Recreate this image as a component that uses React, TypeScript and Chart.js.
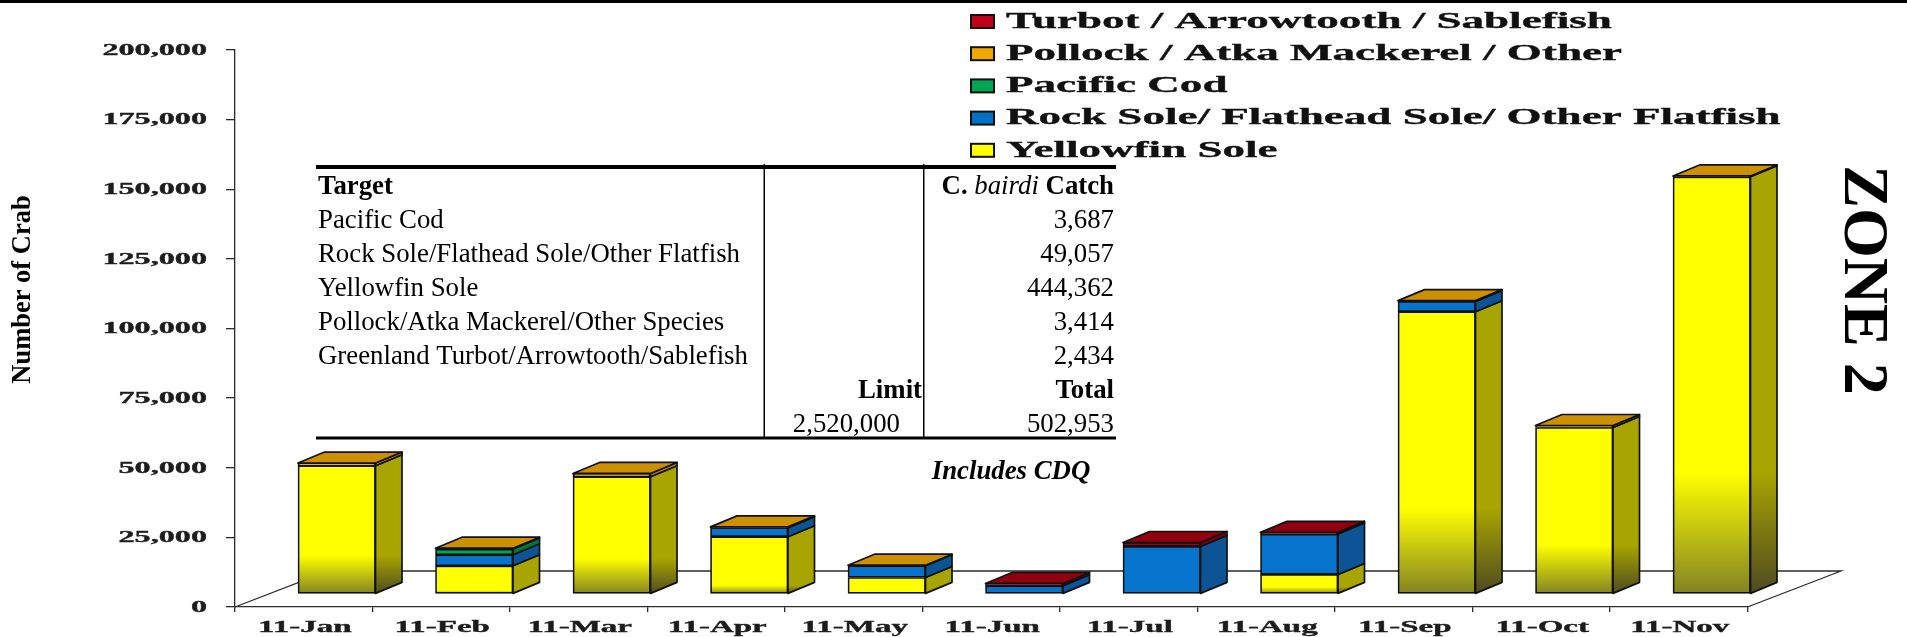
import React, { useEffect, useRef } from "react";
import { Chart, registerables } from "chart.js";
Chart.register(...registerables);

const months = ["11-Jan","11-Feb","11-Mar","11-Apr","11-May","11-Jun","11-Jul","11-Aug","11-Sep","11-Oct","11-Nov"];
const yellowfin = [46050,10140,42100,20560,5940,null,null,7020,101350,59800,149800];
const rockSole = [null,3950,null,3230,4200,2960,17100,14500,3700,null,null];
const pacificCod = [null,2050,null,null,null,null,null,null,null,null,null];
const pollock = [970,300,1190,300,200,null,null,null,300,700,300];
const turbot = [null,null,null,null,null,830,1400,600,null,null,null];

const legendRows = [
  ["Turbot / Arrowtooth / Sablefish", "#C00018"],
  ["Pollock / Atka Mackerel / Other", "#F0A800"],
  ["Pacific Cod", "#00A651"],
  ["Rock Sole/ Flathead Sole/ Other Flatfish", "#0070C8"],
  ["Yellowfin Sole", "#FFFF00"],
];
const tableTargets = ["Pacific Cod","Rock Sole/Flathead Sole/Other Flatfish","Yellowfin Sole","Pollock/Atka Mackerel/Other Species","Greenland Turbot/Arrowtooth/Sablefish"];
const tableCatch = ["3,687","49,057","444,362","3,414","2,434"];
const limitValue = "2,520,000";
const totalValue = "502,953";

const SERIF = '"Liberation Serif", "Times New Roman", serif';
const DX = 26.5, DY = 11, OFFX = 33, OFFY = 13;
const TABLE_SX = 0.957;

type RGB = [number, number, number];
const FACE: Record<string, { front: RGB; side: RGB; top: RGB; low: RGB; sideLow: RGB }> = {
  yellow: { front: [255,255,0], side: [168,165,0], top: [204,144,0], low: [130,130,36], sideLow: [78,74,34] },
  blue: { front: [6,116,205], side: [12,84,150], top: [204,144,0], low: [46,104,155], sideLow: [24,60,90] },
  green: { front: [0,166,81], side: [0,120,60], top: [0,140,70], low: [60,120,90], sideLow: [30,80,60] },
  orange: { front: [240,164,0], side: [190,130,0], top: [204,144,0], low: [150,120,50], sideLow: [90,70,40] },
  red: { front: [165,0,16], side: [130,0,14], top: [145,0,14], low: [120,40,40], sideLow: [80,30,30] },
};
const rgb = (c: RGB) => `rgb(${c[0]},${c[1]},${c[2]})`;

function stackTotal(i: number) {
  return [yellowfin, rockSole, pacificCod, pollock, turbot].reduce((s, a) => s + (a[i] || 0), 0);
}

function shade(chart: any, i: number, hi: RGB, lo: RGB) {
  const sc = chart.scales.y;
  if (!sc) return rgb(hi);
  const y0 = sc.getPixelForValue(0);
  const yT = sc.getPixelForValue(stackTotal(i));
  if (!Number.isFinite(y0) || !Number.isFinite(yT)) return rgb(hi);
  const h = y0 - yT;
  const frac = 0.29 * Math.pow(Math.min(1, h / 120), 1.5);
  const g = chart.ctx.createLinearGradient(0, y0 - frac * h - 0.5, 0, y0);
  g.addColorStop(0, rgb(hi));
  g.addColorStop(1, rgb(lo));
  return g;
}

function stretched(ctx: any, text: string, x: number, y: number, sx: number, align: string, heavy = true) {
  ctx.save();
  ctx.translate(x, y);
  ctx.scale(sx, 1);
  ctx.textAlign = align;
  ctx.fillText(text, 0, 0);
  if (heavy) {
    ctx.strokeStyle = ctx.fillStyle;
    ctx.lineWidth = 0.35;
    ctx.strokeText(text, 0, 0);
  }
  ctx.restore();
}

const wall = {
  id: "wall",
  beforeDatasetsDraw(chart: any) {
    const { ctx, chartArea: a } = chart;
    const depthX = 2 * OFFX + DX + 1, depthY = 2 * OFFY + DY - 1;
    ctx.save();
    ctx.strokeStyle = "#2a2a2a";
    ctx.lineWidth = 1.3;
    ctx.beginPath();
    ctx.moveTo(a.left, a.bottom);
    ctx.lineTo(a.left + depthX, a.bottom - depthY);
    ctx.lineTo(a.right + depthX, a.bottom - depthY);
    ctx.lineTo(a.right, a.bottom);
    ctx.stroke();
    ctx.restore();
    ctx.save();
    ctx.translate(OFFX, -OFFY);
  },
  afterDatasetsDraw(chart: any) {
    const { ctx } = chart;
    ctx.lineWidth = 1.7;
    ctx.strokeStyle = "#111";
    ctx.lineJoin = "round";
    const n = months.length;
    for (let i = 0; i < n; i++) {
      let top: any = null;
      chart.data.datasets.forEach((ds: any, d: number) => {
        if (ds.data[i] == null) return;
        const el = chart.getDatasetMeta(d).data[i];
        const f = FACE[ds.face];
        const r = el.x + el.width / 2;
        ctx.beginPath();
        ctx.moveTo(r, el.y);
        ctx.lineTo(r + DX, el.y - DY);
        ctx.lineTo(r + DX, el.base - DY);
        ctx.lineTo(r, el.base);
        ctx.closePath();
        ctx.fillStyle = shade(chart, i, f.side, f.sideLow);
        ctx.fill();
        ctx.stroke();
        top = { el, f };
      });
      if (top) {
        const { el, f } = top;
        const l = el.x - el.width / 2, r = el.x + el.width / 2;
        ctx.beginPath();
        ctx.moveTo(l, el.y);
        ctx.lineTo(l + DX, el.y - DY);
        ctx.lineTo(r + DX, el.y - DY);
        ctx.lineTo(r, el.y);
        ctx.closePath();
        ctx.fillStyle = rgb(f.top);
        ctx.fill();
        ctx.stroke();
      }
    }
    ctx.restore();
  },
};

const annotations = {
  id: "annotations",
  afterDraw(chart: any) {
    const { ctx, scales } = chart;
    ctx.save();
    ctx.fillStyle = "#000";
    ctx.fillRect(0, 0, chart.width, 3);
    ctx.textBaseline = "middle";

    // axis labels
    ctx.fillStyle = "#1c1c1c";
    ctx.font = `bold 16.5px ${SERIF}`;
    scales.y.ticks.forEach((t: any) => {
      stretched(ctx, Number(t.value).toLocaleString("en-US"), 207, scales.y.getPixelForValue(t.value) + 0.5, 1.95, "right");
    });
    months.forEach((m, i) => {
      stretched(ctx, m, scales.x.getPixelForValue(i) + 1, 627.5, 2, "center");
    });

    // legend
    legendRows.forEach(([label, color], i) => {
      const y = 21.5 + i * 32.2;
      ctx.fillStyle = color;
      ctx.fillRect(971, y - 6.5, 23, 13);
      ctx.strokeStyle = "#111";
      ctx.lineWidth = 2;
      ctx.strokeRect(971, y - 6.5, 23, 13);
      ctx.fillStyle = "#111";
      ctx.font = `bold 24px ${SERIF}`;
      stretched(ctx, label, 1006, y, 1.877, "left");
    });

    // rotated titles
    ctx.fillStyle = "#000";
    ctx.save();
    ctx.translate(23, 289.5);
    ctx.rotate(-Math.PI / 2);
    ctx.font = `bold 26.5px ${SERIF}`;
    ctx.textAlign = "center";
    ctx.fillText("Number of Crab", 0, 0);
    ctx.restore();
    ctx.save();
    ctx.translate(1862, 280);
    ctx.rotate(Math.PI / 2);
    ctx.font = `bold 64px ${SERIF}`;
    ctx.textAlign = "center";
    ctx.fillText("ZONE 2", 0, 0);
    ctx.restore();

    // table
    ctx.fillStyle = "#000";
    ctx.fillRect(316, 165, 800, 4);
    ctx.fillRect(316, 436.5, 800, 3);
    ctx.fillRect(763.5, 164, 1.5, 273);
    ctx.fillRect(923, 164, 1.5, 273);
    const rowY = (k: number) => 187 + k * 33.95;
    const bold = `bold 28px ${SERIF}`, reg = `28px ${SERIF}`, ital = `italic 28px ${SERIF}`;
    const cell = (t: string, x: number, y: number, align: string) => stretched(ctx, t, x, y, TABLE_SX, align, false);
    ctx.font = bold;
    cell("Target", 318, rowY(0), "left");
    // mixed-style heading, right aligned
    const w3 = ctx.measureText(" Catch").width * TABLE_SX;
    const w1 = ctx.measureText("C. ").width * TABLE_SX;
    ctx.font = ital;
    const w2 = ctx.measureText("bairdi").width * TABLE_SX;
    let hx = 1114 - w1 - w2 - w3;
    ctx.font = bold; cell("C. ", hx, rowY(0), "left"); hx += w1;
    ctx.font = ital; cell("bairdi", hx, rowY(0), "left"); hx += w2;
    ctx.font = bold; cell(" Catch", hx, rowY(0), "left");
    ctx.font = reg;
    tableTargets.forEach((t, i) => {
      cell(t, 318, rowY(i + 1), "left");
      cell(tableCatch[i], 1114, rowY(i + 1), "right");
    });
    ctx.font = bold;
    cell("Limit", 922, rowY(6), "right");
    cell("Total", 1114, rowY(6), "right");
    ctx.font = reg;
    cell(limitValue, 900, rowY(7), "right");
    cell(totalValue, 1114, rowY(7), "right");
    ctx.font = `italic bold 28px ${SERIF}`;
    stretched(ctx, "Includes CDQ", 1011, 472, TABLE_SX, "center", false);
    ctx.restore();
  },
};

function series(label: string, data: (number | null)[], face: string) {
  return {
    label,
    data,
    face,
    clip: false,
    stack: "s",
    barThickness: 77.5,
    borderColor: "#111",
    borderWidth: 1.7,
    borderSkipped: false,
    backgroundColor: (c: any) => shade(c.chart, c.dataIndex, FACE[face].front, FACE[face].low),
  };
}

export default function App() {
  const ref = useRef<HTMLCanvasElement>(null);
  useEffect(() => {
    document.body.style.margin = "0";
    document.body.style.background = "#fff";
    const chart = new Chart(ref.current as any, {
      type: "bar",
      data: {
        labels: months,
        datasets: [
          series("Yellowfin Sole", yellowfin, "yellow"),
          series("Rock Sole/ Flathead Sole/ Other Flatfish", rockSole, "blue"),
          series("Pacific Cod", pacificCod, "green"),
          series("Pollock / Atka Mackerel / Other", pollock, "orange"),
          series("Turbot / Arrowtooth / Sablefish", turbot, "red"),
        ] as any,
      },
      plugins: [wall, annotations],
      options: {
        responsive: false,
        animation: false,
        layout: { padding: { top: 50, right: 159.5, bottom: 0, left: 0 } },
        plugins: { legend: { display: false }, tooltip: { enabled: false }, title: { display: false } },
        scales: {
          x: {
            stacked: true,
            afterFit: (s: any) => { s.height = 30; },
            grid: { drawOnChartArea: false, tickLength: 5, color: "#2a2a2a", lineWidth: 1.3 },
            border: { color: "#2a2a2a", width: 1.3 },
            ticks: { display: false },
          },
          y: {
            stacked: true,
            min: 0,
            max: 200000,
            afterFit: (s: any) => { s.width = 235; },
            grid: { drawOnChartArea: false, tickLength: 9, color: "#2a2a2a", lineWidth: 1.3 },
            border: { color: "#2a2a2a", width: 1.3 },
            ticks: { display: false, stepSize: 25000 },
          },
        },
      } as any,
    });
    return () => chart.destroy();
  }, []);
  return <canvas ref={ref} width={1907} height={637} style={{ display: "block" }} />;
}
